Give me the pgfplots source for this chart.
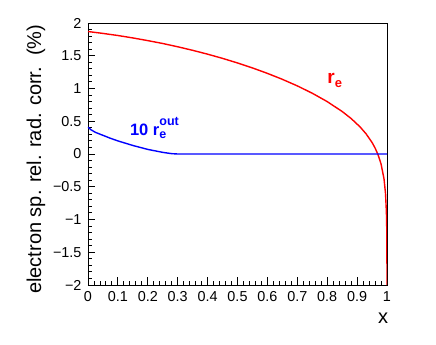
\documentclass[border=0pt]{standalone}
\usepackage{fontspec}
\setmainfont{Liberation Sans}
\usepackage{pgfplots}
\pgfplotsset{compat=1.18}

% red: r_e, blue: 10 r_e^out
\pgfplotstableread{
x y
0 1.870
0.05 1.841
0.1 1.809
0.15 1.772
0.2 1.731
0.25 1.687
0.3 1.637
0.35 1.583
0.4 1.524
0.45 1.460
0.5 1.390
0.55 1.314
0.6 1.231
0.65 1.140
0.7 1.040
0.75 0.928
0.8 0.800
0.85 0.649
0.88 0.542
0.91 0.413
0.93 0.308
0.95 0.176
0.96 0.093
0.97 -0.010
0.98 -0.150
0.99 -0.380
0.995 -0.601
0.998 -0.890
0.999 -1.106
0.9995 -1.320
0.9998 -1.606
0.99994 -2.000
}\redtab

\pgfplotstableread{
x y
0 0.410
0.01 0.370
0.025 0.330
0.05 0.285
0.075 0.240
0.1 0.200
0.15 0.130
0.2 0.070
0.25 0.025
0.28 0.005
0.3 0.000
1.0 0.000
}\bluetab

\begin{document}
\begin{tikzpicture}
\begin{axis}[
  name=ax,
  scale only axis,
  width=299pt, height=262pt,
  xmin=0, xmax=1, ymin=-2, ymax=2,
  xtick={0,0.1,...,1.01},
  xticklabels={0,0.1,0.2,0.3,0.4,0.5,0.6,0.7,0.8,0.9,1},
  ytick={-2,-1.5,...,2.01},
  yticklabels={−2,−1.5,−1,−0.5,0,0.5,1,1.5,2},
  minor x tick num=4,
  minor y tick num=4,
  xtick pos=bottom, ytick pos=left,
  tick align=inside,
  major tick length=7.5pt,
  minor tick length=4pt,
  axis line style={line width=0.9pt},
  every tick/.style={black, line width=0.9pt},
  ticklabel style={font=\fontsize{14.4}{17}\selectfont},
  yticklabel style={xshift=-3pt},
  xticklabel style={yshift=-3pt},
  xlabel={x},
  ylabel={electron sp. rel. rad. corr.\ \ (\%)},
  every axis x label/.style={at={(axis description cs:1,0)}, anchor=center,
    xshift=-4pt, yshift=-33pt, font=\fontsize{20}{24}\selectfont},
  every axis y label/.style={at={(axis description cs:-0.174,0.48)}, anchor=center,
    rotate=90, font=\fontsize{20}{24}\selectfont},
]
\addplot[red, line width=1.4pt, no marks] table[x=x, y=y] {\redtab};
\addplot[blue, line width=1.4pt, no marks] table[x=x, y=y] {\bluetab};
\node[anchor=base west, inner sep=0pt, red, font=\bfseries\fontsize{19}{22}\selectfont]
  at (axis cs:0.80,1.08) {r\raisebox{-4pt}{\fontsize{13}{13}\selectfont e}};
\node[anchor=base west, inner sep=0pt, blue, font=\bfseries\fontsize{16.5}{20}\selectfont]
  at (axis cs:0.14,0.29) {10 r\rlap{\raisebox{10pt}{\fontsize{12.5}{13}\selectfont out}}\raisebox{-3pt}{\fontsize{12.5}{13}\selectfont e}};
\end{axis}
\pgfresetboundingbox
\path (ax.south west) ++(-88pt,-60pt) rectangle ++(436pt,345pt);
\end{tikzpicture}
\end{document}
